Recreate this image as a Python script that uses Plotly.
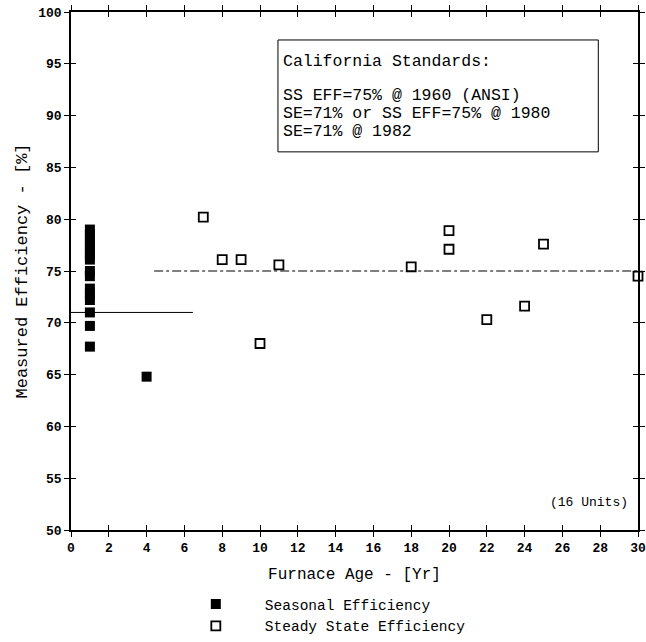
import plotly.graph_objects as go

# Seasonal efficiency (filled squares)
se_age = [1, 1, 1, 1, 1, 1, 1, 1, 1, 1, 1, 1, 1, 1, 1, 4]
se_eff = [79.0, 78.5, 78.0, 77.5, 77.0, 76.5, 76.1, 75.0, 74.5, 73.3, 72.8, 72.2, 71.0, 69.7, 67.7, 64.8]

# Steady state efficiency (open squares)
ss_age = [7, 8, 9, 10, 11, 18, 20, 20, 22, 24, 25, 30]
ss_eff = [80.2, 76.1, 76.1, 68.0, 75.6, 75.4, 78.9, 77.1, 70.3, 71.6, 77.6, 74.5]

# Standard lines
se_std_x = [0, 6.45]
se_std_y = [71, 71]
ss_std_x = [4.4, 30]
ss_std_y = [75, 75]

x_ticks = list(range(0, 31, 2))
y_ticks = list(range(50, 101, 5))

box_title = "California Standards:"
box_lines = ["SS EFF=75% @ 1960 (ANSI)", "SE=71% or SS EFF=75% @ 1980", "SE=71% @ 1982"]

FONT = "Liberation Mono"

fig = go.Figure()
fig.add_trace(go.Scatter(x=se_std_x, y=se_std_y, mode="lines",
                         line=dict(color="black", width=1), showlegend=False, hoverinfo="skip"))
fig.add_trace(go.Scatter(x=ss_std_x, y=ss_std_y, mode="lines",
                         line=dict(color="black", width=1.2, dash="dashdot"), showlegend=False, hoverinfo="skip"))
fig.add_trace(go.Scatter(x=se_age, y=se_eff, mode="markers", name="Seasonal Efficiency", cliponaxis=False,
                         marker=dict(symbol="square", size=10, color="black")))
fig.add_trace(go.Scatter(x=ss_age, y=ss_eff, mode="markers", name="Steady State Efficiency", cliponaxis=False,
                         marker=dict(symbol="square-open", size=9, color="black", line=dict(width=1.8))))

axis_common = dict(showgrid=False, zeroline=False, showline=True, linecolor="black", linewidth=1.5,
                   mirror="ticks", ticks="outside", ticklen=5, tickcolor="black", tickwidth=1.2,
                   automargin=False)

fig.update_layout(
    width=646, height=642,
    margin=dict(l=71, r=8, t=12, b=112),
    plot_bgcolor="white", paper_bgcolor="white",
    font=dict(family=FONT, color="black", size=13),
    xaxis=dict(range=[0, 30], tickvals=x_ticks, ticktext=[str(v) for v in x_ticks],
               tickfont=dict(size=13, family=FONT, weight="bold"),
               title=dict(text="Furnace Age - [Yr]", font=dict(size=16, family=FONT), standoff=12),
               **axis_common),
    yaxis=dict(range=[50, 100], tickvals=y_ticks, ticktext=[str(v) for v in y_ticks],
               tickfont=dict(size=13, family=FONT, weight="bold"),
               title=dict(text="Measured Efficiency - [%]", font=dict(size=17, family=FONT), standoff=6),
               **axis_common),
    xaxis2=dict(range=[0, 30], overlaying="x", tickvals=x_ticks, showticklabels=False,
                showgrid=False, zeroline=False, showline=False, ticks="inside", ticklen=5,
                tickcolor="black", tickwidth=1.2, mirror="ticks", automargin=False),
    yaxis2=dict(range=[50, 100], overlaying="y", tickvals=y_ticks, showticklabels=False,
                showgrid=False, zeroline=False, showline=False, ticks="inside", ticklen=5,
                tickcolor="black", tickwidth=1.2, mirror="ticks", automargin=False),
    legend=dict(x=0.169, y=0.0, xref="paper", yref="container", xanchor="left", yanchor="bottom",
                orientation="v", font=dict(size=14.5, family=FONT), itemwidth=88, tracegroupgap=0,
                bgcolor="rgba(0,0,0,0)"),
    showlegend=True,
)

# dummy trace to activate secondary axes for crossing ticks
fig.add_trace(go.Scatter(x=[None], y=[None], xaxis="x2", yaxis="y2", showlegend=False, hoverinfo="skip"))

# Standards box
fig.add_shape(type="rect", xref="x", yref="y", x0=10.95, x1=27.9, y0=86.5, y1=97.3,
              line=dict(color="black", width=1), fillcolor="white", layer="below")
fig.add_annotation(x=11.1, y=95.2, xref="x", yref="y", xanchor="left", yanchor="middle",
                   text=box_title, showarrow=False, font=dict(size=16.5, family=FONT))
for i, line in enumerate(box_lines):
    fig.add_annotation(x=11.1, y=91.9 - 1.72 * i, xref="x", yref="y", xanchor="left", yanchor="middle",
                       text=line, showarrow=False, font=dict(size=16.5, family=FONT))

fig.add_annotation(x=27.4, y=52.7, xref="x", yref="y", text="(16 Units)", showarrow=False,
                   font=dict(size=13, family=FONT))

fig.write_html("out.html")
